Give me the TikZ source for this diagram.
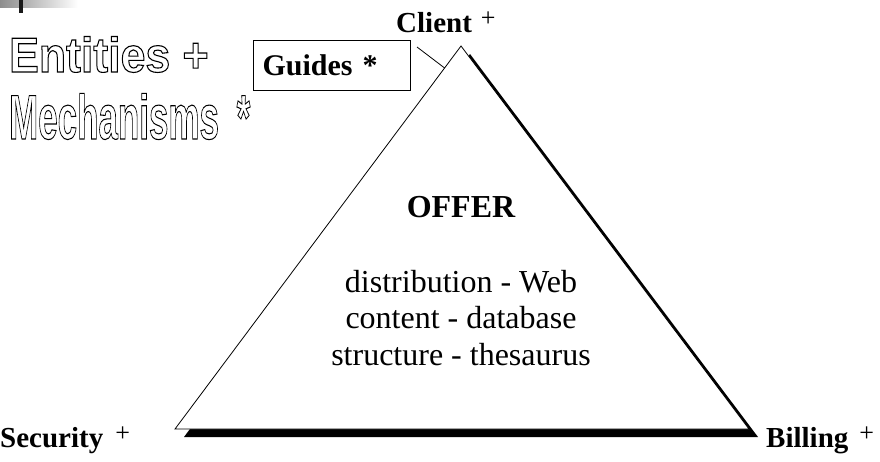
\documentclass[tikz,border=0pt]{standalone}
\usepackage{fontspec}
\setmainfont{Liberation Serif}
\newfontfamily\outfont{Liberation Sans Bold}
\usetikzlibrary{calc}
\newcommand\smallplus{\raisebox{6pt}{\mdseries\fontsize{26}{26}\selectfont +}}
\newcommand\hollowtext[1]{\special{pdf:literal direct 1 Tr 1.1 w}#1\special{pdf:literal direct 0 Tr}}
\begin{document}
\begin{tikzpicture}[x=1pt,y=-1pt,
  lbl/.style={anchor=base west, inner sep=0pt, font=\fontsize{29}{29}\selectfont\bfseries},
  body/.style={anchor=base, inner sep=0pt, font=\fontsize{32}{32}\selectfont},
  outl/.style={anchor=base west, inner sep=0pt},
  edge/.style={line width=0.8pt}
]
\useasboundingbox (0,0) rectangle (880,461);
% slide decoration
\shade[left color=black!45, right color=white] (0,0) rectangle (78,7);
\fill[black!90] (19,0) rectangle (23,13);

% triangle
\coordinate (apex) at (461,46);
\coordinate (bl) at (175,429);
\coordinate (br) at (749,429);
\fill[black] ([shift={(9,8)}]apex) -- ([shift={(9,8)}]bl) -- ([shift={(9,8)}]br) -- cycle;
\draw[edge, fill=white, line join=miter] (apex) -- (bl) -- (br) -- cycle;

% outlined title
\node[outl, xscale=0.91, font=\outfont\fontsize{49}{49}\selectfont] (ent) at (9,72) {\hollowtext{Entities +}};
\node[outl, xscale=0.555, font=\outfont\fontsize{63}{63}\selectfont] (mech) at (9,139) {\hollowtext{Mechanisms\hspace{32pt}*}};

% guides box
\node[draw, line width=1.1pt, anchor=north west, minimum width=157pt, minimum height=50pt,
      text width=139pt, inner xsep=9pt, inner ysep=0pt, align=left,
      font=\fontsize{30}{30}\selectfont\bfseries] (guides) at (253,40) {Guides *};
\coordinate (gc) at (417,47);
\draw[edge] (gc) -- ($(apex)!0.0574!(bl)$);

% corner labels
\node[lbl] (client) at (396,32) {Client\hspace{9pt}\smallplus};
\node[lbl] (security) at (0,447) {Security\hspace{12pt}\smallplus};
\node[lbl] (billing) at (766,447) {Billing\hspace{11pt}\smallplus};

% content
\node[body, font=\fontsize{32}{32}\selectfont\bfseries] (offer) at (461,217) {OFFER};
\node[body] (l1) at (461,292) {distribution - Web};
\node[body] (l2) at (461,328) {content - database};
\node[body] (l3) at (461,365) {structure - thesaurus};
\end{tikzpicture}
\end{document}
